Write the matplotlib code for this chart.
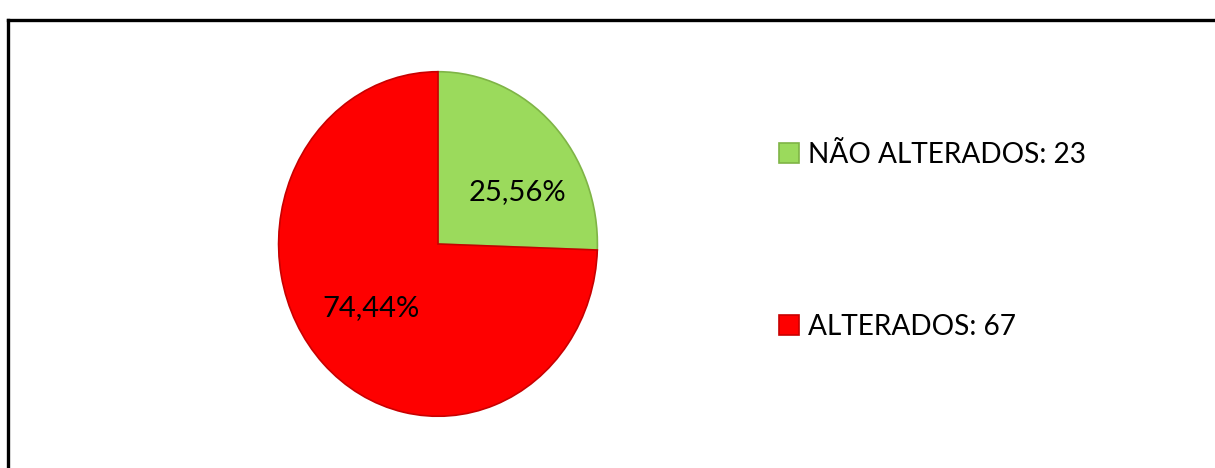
import matplotlib
matplotlib.use("Agg")
import matplotlib.pyplot as plt
from matplotlib.lines import Line2D

categories = ["NÃO ALTERADOS", "ALTERADOS"]
values = [23, 67]
colors = ["#9BDA5C", "#FE0000"]
edge_colors = ["#7FB446", "#C80000"]

plt.rcParams['font.family'] = ['Lato', 'DejaVu Sans']

fig = plt.figure(figsize=(12.15, 4.68), dpi=100)

# frame around the chart area (top and left edges visible)
fig.add_artist(Line2D([7.5/1215, 1.0], [1-20/468, 1-20/468], transform=fig.transFigure,
                      color="black", lw=2.4, solid_capstyle="projecting"))
fig.add_artist(Line2D([7.5/1215, 7.5/1215], [1-20/468, 0], transform=fig.transFigure,
                      color="black", lw=2.4, solid_capstyle="projecting"))

ax = fig.add_axes([277/1215, 50/468, 322/1215, 348/468])
fmt = lambda p: f"{p:.2f}%".replace(".", ",")
wedges, texts, autotexts = ax.pie(values, colors=colors, startangle=90, counterclock=False,
                                  autopct=fmt, pctdistance=0.57,
                                  wedgeprops=dict(linewidth=1.2),
                                  textprops=dict(fontsize=21, color="black"))
for w, ec in zip(wedges, edge_colors):
    w.set_edgecolor(ec)
ax.set_aspect('auto')
ax.set_xlim(-1.01, 1.01)
ax.set_ylim(-1.01, 1.01)
# fine placement of percentage labels as in the reference
autotexts[0].set_position((0.50, 0.30))
autotexts[1].set_position((-0.42, -0.37))

labels = [f"{c}: {v}" for c, v in zip(categories, values)]
leg = fig.legend(wedges, labels, loc="upper left", bbox_to_anchor=(779/1215, 1-142/468),
                 frameon=False, fontsize=20.2, handlelength=0.7, handleheight=0.7,
                 handletextpad=0.33, labelspacing=5.2, borderpad=0, borderaxespad=0)

fig.savefig("out.png", dpi=100)
